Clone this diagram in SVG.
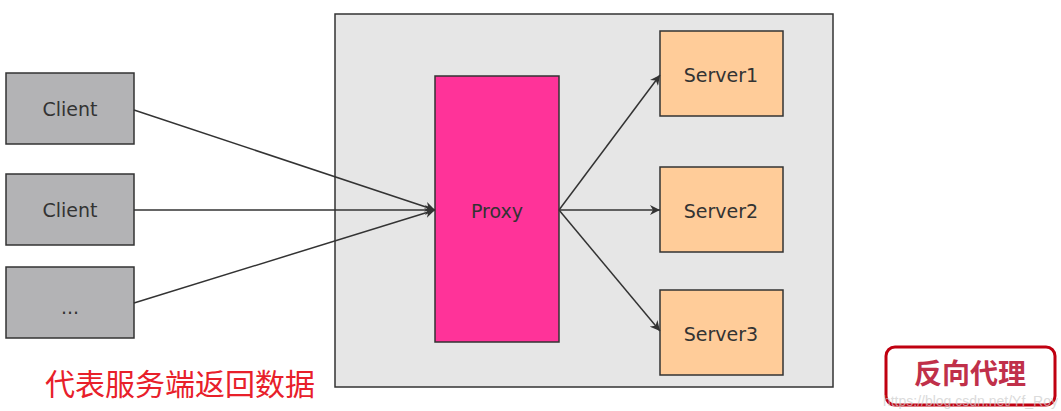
<svg xmlns="http://www.w3.org/2000/svg" width="1061" height="411" viewBox="0 0 1061 411">
<style>
.box{stroke:#333;stroke-width:1.5}
.client{fill:#b3b3b5}
.server{fill:#ffcc99}
.lbl{font-family:"DejaVu Sans",sans-serif;font-size:19px;fill:#333;text-anchor:middle;dominant-baseline:central}
.conn{stroke:#333;stroke-width:1.5;fill:none;marker-end:url(#ah)}
</style>
<defs>
<marker id="ah" viewBox="0 0 10 10" refX="10" refY="5" markerWidth="11" markerHeight="10" markerUnits="userSpaceOnUse" orient="auto"><path d="M0,0 L10,5 L0,10 L3,5 Z" fill="#333"/></marker>
</defs>
<rect width="1061" height="411" fill="#fff"/>
<g id="container"><rect x="335" y="14" width="498" height="373" fill="#e6e6e6" class="box"/></g>
<g id="client1"><rect x="6" y="73" width="128" height="71" class="box client"/><text x="70" y="109" class="lbl">Client</text></g>
<g id="client2"><rect x="6" y="174" width="128" height="71" class="box client"/><text x="70" y="210" class="lbl">Client</text></g>
<g id="client3"><rect x="6" y="267" width="128" height="71" class="box client"/><text x="70" y="307" class="lbl">...</text></g>
<g id="proxy"><rect x="435" y="76" width="124" height="266" fill="#ff3399" class="box"/><text x="497" y="211" class="lbl">Proxy</text></g>
<g id="server1"><rect x="660" y="31" width="123" height="85" class="box server"/><text x="721" y="75" class="lbl">Server1</text></g>
<g id="server2"><rect x="660" y="167" width="123" height="85" class="box server"/><text x="721" y="211" class="lbl">Server2</text></g>
<g id="server3"><rect x="660" y="290" width="123" height="85" class="box server"/><text x="721" y="334" class="lbl">Server3</text></g>
<g id="connectors">
<line x1="134" y1="110" x2="435" y2="210" class="conn"/>
<line x1="134" y1="210" x2="435" y2="210" class="conn"/>
<line x1="134" y1="303" x2="435" y2="210" class="conn"/>
<line x1="559" y1="210" x2="660" y2="75" class="conn"/>
<line x1="559" y1="210" x2="660" y2="210" class="conn"/>
<line x1="559" y1="210" x2="660" y2="331" class="conn"/>
</g>
<g id="note"><text x="45" y="395" font-family="'Noto Sans CJK SC',sans-serif" font-size="30" fill="#e8202a">代表服务端返回数据</text></g>
<g id="badge"><rect x="886" y="347" width="169" height="58" rx="9" fill="#fff" stroke="#c00010" stroke-width="3"/><text x="970" y="384" text-anchor="middle" font-family="'Noto Sans CJK SC',sans-serif" font-weight="bold" font-size="28" fill="#c0304a">反向代理</text></g>
<text x="1058" y="406" text-anchor="end" font-family="'Liberation Sans',sans-serif" font-size="14" fill="#ccc" opacity="0.7">https://blog.csdn.net/Yf_Roy</text>
</svg>
